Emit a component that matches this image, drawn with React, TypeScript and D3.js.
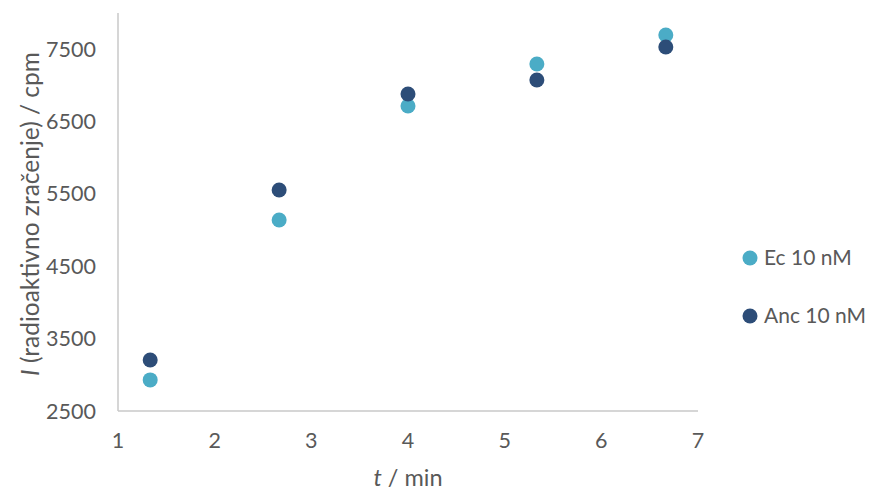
import React from "react";
import * as d3 from "d3";

const times = [1.333, 2.667, 4, 5.333, 6.667];
const ecValues = [2930, 5140, 6715, 7295, 7695];
const ancValues = [3205, 5555, 6880, 7075, 7530];
const yTicks = [2500, 3500, 4500, 5500, 6500, 7500];
const xTicks = [1, 2, 3, 4, 5, 6, 7];
const seriesNames = ["Ec 10 nM", "Anc 10 nM"];
const seriesColors = ["#4bacc6", "#2d4d78"];

const W = 869;
const H = 492;
const FONT = "Lato, 'Open Sans', sans-serif";
const TXT = "#595959";

export default function App() {
  const x = d3.scaleLinear().domain([1, 7]).range([118, 698]);
  const y = d3.scaleLinear().domain([2500, 8000]).range([411, 13]);
  const series = [ecValues, ancValues];
  return (
    <svg width={W} height={H} style={{ position: "absolute", left: 0, top: 0 }} fontFamily={FONT}>
      <rect width={W} height={H} fill="#fff" />
      <line x1={x(1)} x2={x(1)} y1={y(8000)} y2={y(2500)} stroke="#c9c9c9" strokeWidth={1.5} />
      <line x1={x(1)} x2={x(7)} y1={y(2500)} y2={y(2500)} stroke="#c9c9c9" strokeWidth={1.5} />
      {yTicks.map((t) => (
        <text key={t} x={96} y={y(t)} dy="0.35em" textAnchor="end" fontSize={21.5} fill={TXT}>
          {t}
        </text>
      ))}
      {xTicks.map((t) => (
        <text key={t} x={x(t)} y={448} textAnchor="middle" fontSize={21.5} fill={TXT}>
          {t}
        </text>
      ))}
      <text x={408} y={486} textAnchor="middle" fontSize={23.5} fill={TXT}>
        <tspan fontStyle="italic">t</tspan> / min
      </text>
      <text
        transform={`translate(39, ${214}) rotate(-90)`}
        textAnchor="middle"
        fontSize={24.5}
        fill={TXT}
      >
        <tspan fontStyle="italic">I</tspan> (radioaktivno zračenje) / cpm
      </text>
      {series.map((vals, si) =>
        vals.map((v, i) => (
          <circle key={`${si}-${i}`} cx={x(times[i])} cy={y(v)} r={7.5} fill={seriesColors[si]} />
        ))
      )}
      {seriesNames.map((n, i) => (
        <g key={n} transform={`translate(750, ${258 + i * 58})`}>
          <circle r={7.5} fill={seriesColors[i]} />
          <text x={14} dy="0.35em" fontSize={21} fill={TXT}>
            {n}
          </text>
        </g>
      ))}
    </svg>
  );
}
